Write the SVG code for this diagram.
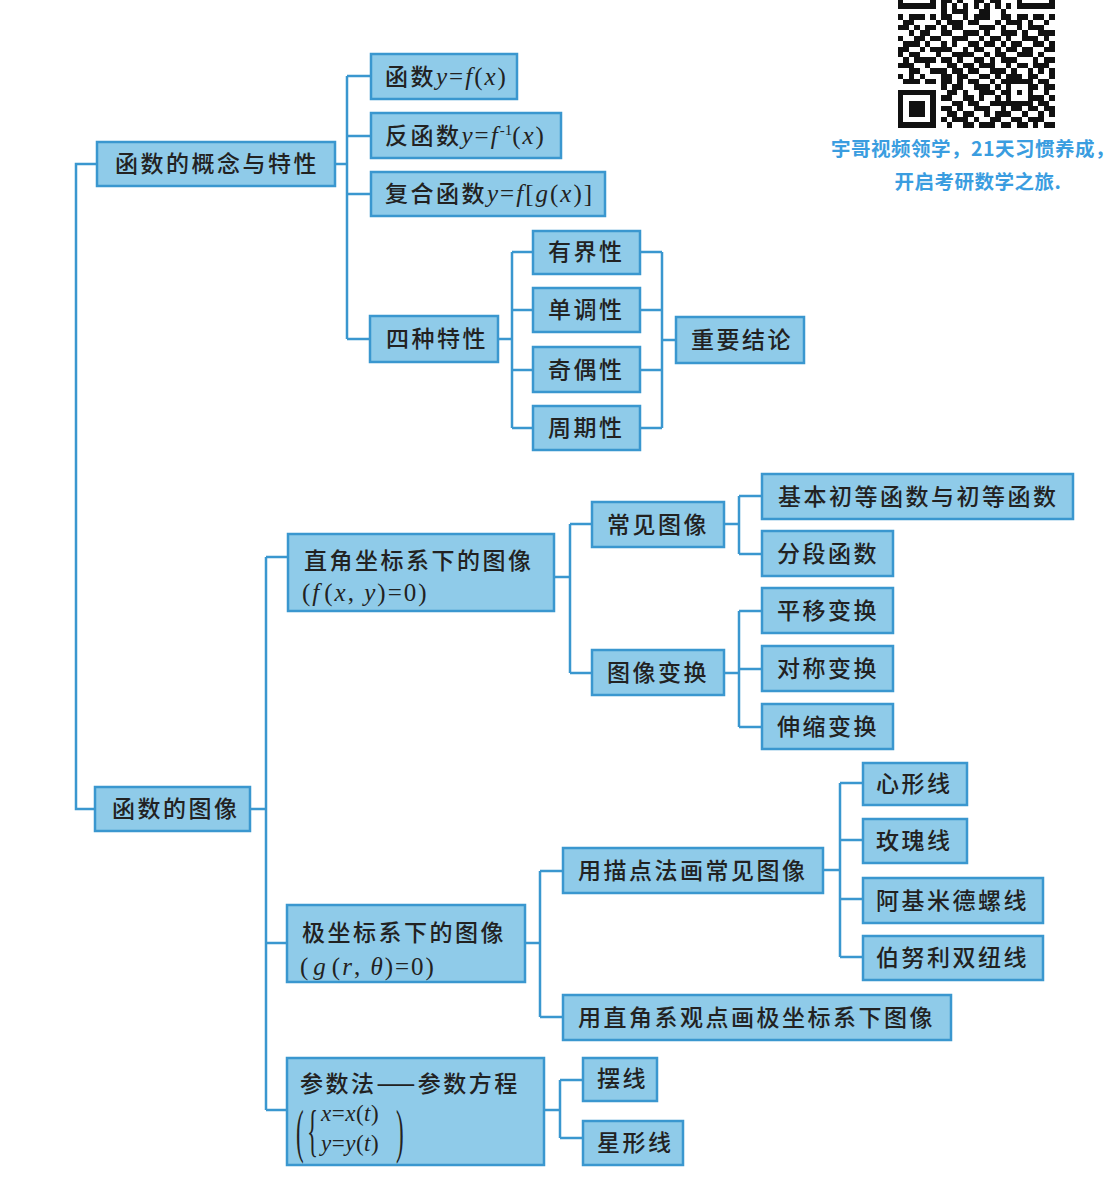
<svg xmlns="http://www.w3.org/2000/svg" width="1120" height="1180" viewBox="0 0 1120 1180">
  <style>
    .box { fill: #8fcbe9; stroke: #3a97cf; stroke-width: 2.5; }
    .link { fill: none; stroke: #3a97cf; stroke-width: 2.5; }
    .t { font-family: "Noto Sans CJK SC", "Noto Sans", sans-serif; font-size: 23px; font-weight: 500; fill: #222; letter-spacing: 2.5px; }
    .m { font-family: "Liberation Serif", "Noto Sans CJK SC", serif; font-size: 25px; font-weight: normal; letter-spacing: 2px; }
    .i { font-style: italic; }
    .f { font-family: "Liberation Serif", serif; font-size: 23px; fill: #222; letter-spacing: 0.5px; }
    .cap { font-family: "Noto Sans CJK SC", sans-serif; font-size: 19.5px; font-weight: 700; fill: #3a9de0; text-anchor: middle; letter-spacing: 0.5px; }
  </style>
  <rect width="1120" height="1180" fill="#ffffff"/>

  <!-- QR code block, top right -->
  <g id="qr" fill="#111" shape-rendering="crispEdges" transform="translate(898,-29) scale(5.4)">
    <path d="M0 5h1v1h-1zM6 5h1v1h-1zM8 5h2v1h-2zM11 5h1v1h-1zM14 5h2v1h-2zM17 5h2v1h-2zM22 5h1v1h-1zM28 5h1v1h-1z
             M0 6h7v1h-7zM8 6h1v1h-1zM10 6h1v1h-1zM12 6h1v1h-1zM14 6h1v1h-1zM16 6h1v1h-1zM18 6h1v1h-1zM20 6h1v1h-1zM22 6h7v1h-7z
             M8 7h1v1h-1zM10 7h3v1h-3zM15 7h2v1h-2zM19 7h1v1h-1z
             M0 8h1v1h-1zM2 8h3v1h-3zM6 8h1v1h-1zM8 8h2v1h-2zM12 8h1v1h-1zM14 8h3v1h-3zM19 8h2v1h-2zM22 8h2v1h-2zM25 8h2v1h-2zM28 8h1v1h-1z
             M1 9h2v1h-2zM7 9h1v1h-1zM9 9h3v1h-3zM13 9h2v1h-2zM18 9h1v1h-1zM20 9h3v1h-3zM24 9h1v1h-1zM27 9h1v1h-1z
             M0 10h2v1h-2zM3 10h1v1h-1zM5 10h2v1h-2zM8 10h1v1h-1zM10 10h2v1h-2zM15 10h3v1h-3zM19 10h1v1h-1zM22 10h1v1h-1zM24 10h3v1h-3z
             M2 11h1v1h-1zM4 11h2v1h-2zM8 11h2v1h-2zM12 11h3v1h-3zM16 11h1v1h-1zM19 11h3v1h-3zM23 11h1v1h-1zM26 11h3v1h-3z
             M0 12h1v1h-1zM3 12h2v1h-2zM6 12h2v1h-2zM10 12h3v1h-3zM15 12h1v1h-1zM17 12h2v1h-2zM20 12h1v1h-1zM23 12h3v1h-3zM27 12h1v1h-1z
             M1 13h3v1h-3zM5 13h1v1h-1zM8 13h1v1h-1zM10 13h1v1h-1zM13 13h2v1h-2zM16 13h2v1h-2zM19 13h1v1h-1zM21 13h2v1h-2zM25 13h2v1h-2zM28 13h1v1h-1z
             M0 14h2v1h-2zM4 14h1v1h-1zM6 14h4v1h-4zM12 14h1v1h-1zM14 14h2v1h-2zM18 14h1v1h-1zM20 14h2v1h-2zM23 14h2v1h-2zM27 14h2v1h-2z
             M0 15h1v1h-1zM2 15h2v1h-2zM7 15h1v1h-1zM10 15h4v1h-4zM16 15h1v1h-1zM18 15h2v1h-2zM22 15h3v1h-3zM26 15h1v1h-1z
             M1 16h1v1h-1zM3 16h4v1h-4zM8 16h2v1h-2zM11 16h1v1h-1zM14 16h2v1h-2zM17 16h1v1h-1zM19 16h3v1h-3zM25 16h1v1h-1zM27 16h2v1h-2z
             M0 17h3v1h-3zM5 17h1v1h-1zM9 17h2v1h-2zM12 17h2v1h-2zM15 17h3v1h-3zM20 17h1v1h-1zM22 17h2v1h-2zM25 17h3v1h-3z
             M2 18h2v1h-2zM6 18h3v1h-3zM10 18h2v1h-2zM13 18h2v1h-2zM17 18h3v1h-3zM21 18h1v1h-1zM24 18h1v1h-1zM26 18h1v1h-1zM28 18h1v1h-1z
             M0 19h1v1h-1zM2 19h1v1h-1zM4 19h1v1h-1zM8 19h2v1h-2zM11 19h2v1h-2zM15 19h2v1h-2zM18 19h1v1h-1zM20 19h3v1h-3zM24 19h2v1h-2zM28 19h1v1h-1z
             M1 20h3v1h-3zM5 20h2v1h-2zM8 20h2v1h-2zM11 20h1v1h-1zM13 20h2v1h-2zM17 20h1v1h-1zM19 20h6v1h-6zM26 20h2v1h-2z
             M8 21h1v1h-1zM10 21h2v1h-2zM14 21h3v1h-3zM18 21h1v1h-1zM20 21h1v1h-1zM24 21h2v1h-2zM27 21h2v1h-2z
             M0 22h7v1h-7zM9 22h2v1h-2zM12 22h1v1h-1zM15 22h3v1h-3zM19 22h2v1h-2zM22 22h1v1h-1zM24 22h1v1h-1zM27 22h1v1h-1z
             M0 23h1v1h-1zM6 23h1v1h-1zM8 23h2v1h-2zM12 23h2v1h-2zM15 23h1v1h-1zM18 23h1v1h-1zM20 23h1v1h-1zM24 23h3v1h-3zM28 23h1v1h-1z
             M0 24h1v1h-1zM2 24h3v1h-3zM6 24h1v1h-1zM10 24h2v1h-2zM13 24h2v1h-2zM17 24h8v1h-8zM26 24h2v1h-2z
             M0 25h1v1h-1zM2 25h3v1h-3zM6 25h1v1h-1zM8 25h2v1h-2zM11 25h1v1h-1zM14 25h3v1h-3zM19 25h1v1h-1zM21 25h2v1h-2zM24 25h2v1h-2zM27 25h2v1h-2z
             M0 26h1v1h-1zM2 26h3v1h-3zM6 26h1v1h-1zM9 26h2v1h-2zM12 26h2v1h-2zM16 26h1v1h-1zM18 26h3v1h-3zM23 26h1v1h-1zM26 26h1v1h-1zM28 26h1v1h-1z
             M0 27h1v1h-1zM6 27h1v1h-1zM8 27h1v1h-1zM10 27h3v1h-3zM14 27h1v1h-1zM17 27h2v1h-2zM21 27h2v1h-2zM24 27h3v1h-3z
             M0 28h7v1h-7zM9 28h1v1h-1zM12 28h2v1h-2zM15 28h3v1h-3zM19 28h2v1h-2zM22 28h2v1h-2zM25 28h1v1h-1zM27 28h2v1h-2z"/>
  </g>
  <g id="qr-caption">
    <text class="cap" x="973" y="156">宇哥视频领学，21天习惯养成，</text>
    <text class="cap" x="978" y="189">开启考研数学之旅.</text>
  </g>

  <!-- connectors -->
  <g id="connectors" class="link">
    <!-- root trunk -->
    <path class="link" d="M97 164H76V809H95"/>
    <!-- concept branch -->
    <path class="link" d="M335 164H347M347 76V339M347 76H371M347 136H371M347 194H371M347 339H370"/>
    <!-- four properties -->
    <path class="link" d="M498 339H512M512 252V428M512 252H533M512 310H533M512 370H533M512 428H533"/>
    <path class="link" d="M640 252H662M640 310H662M640 370H662M640 428H662M662 252V428M662 340H676"/>
    <!-- graph branch -->
    <path class="link" d="M250 809H266M266 557V1110M266 557H288M266 943H287M266 1110H287"/>
    <!-- cartesian -->
    <path class="link" d="M554 577H570M570 524V673M570 524H592M570 673H592"/>
    <path class="link" d="M724 524H739M739 496V554M739 496H762M739 554H762"/>
    <path class="link" d="M724 673H739M739 611V727M739 611H762M739 669H762M739 727H762"/>
    <!-- polar -->
    <path class="link" d="M525 943H540M540 871V1017M540 871H563M540 1017H563"/>
    <path class="link" d="M823 870H840M840 783V957M840 783H863M840 840H863M840 899H863M840 957H863"/>
    <!-- parametric -->
    <path class="link" d="M544 1110H560M560 1080V1138M560 1080H583M560 1138H583"/>
  </g>

  <!-- function concept and properties -->
  <g id="n-concept">
    <rect class="box" x="97" y="142" width="238" height="44"/>
    <text class="t" x="115" y="172">函数的概念与特性</text>
  </g>
  <g id="n-function">
    <rect class="box" x="371" y="54" width="146" height="45"/>
    <text class="t" x="385" y="85">函数<tspan class="m"><tspan class="i">y</tspan>=<tspan class="i">f</tspan>(<tspan class="i">x</tspan>)</tspan></text>
  </g>
  <g id="n-inverse">
    <rect class="box" x="371" y="113" width="190" height="45"/>
    <text class="t" x="385" y="144">反函数<tspan class="m"><tspan class="i">y</tspan>=<tspan class="i">f</tspan><tspan font-size="15" dy="-9" letter-spacing="0">-1</tspan><tspan dy="9">(</tspan><tspan class="i">x</tspan>)</tspan></text>
  </g>
  <g id="n-composite">
    <rect class="box" x="371" y="172" width="234" height="44"/>
    <text class="t" x="385" y="202">复合函数<tspan class="m"><tspan class="i">y</tspan>=<tspan class="i">f</tspan>[<tspan class="i">g</tspan>(<tspan class="i">x</tspan>)]</tspan></text>
  </g>
  <g id="n-four">
    <rect class="box" x="370" y="316" width="128" height="46"/>
    <text class="t" x="386" y="347">四种特性</text>
  </g>
  <g id="n-bounded">
    <rect class="box" x="533" y="231" width="107" height="43"/>
    <text class="t" x="548" y="260">有界性</text>
  </g>
  <g id="n-monotone">
    <rect class="box" x="533" y="288" width="107" height="44"/>
    <text class="t" x="548" y="318">单调性</text>
  </g>
  <g id="n-parity">
    <rect class="box" x="533" y="347" width="107" height="45"/>
    <text class="t" x="548" y="378">奇偶性</text>
  </g>
  <g id="n-period">
    <rect class="box" x="533" y="406" width="107" height="44"/>
    <text class="t" x="548" y="436">周期性</text>
  </g>
  <g id="n-conclusion">
    <rect class="box" x="676" y="317" width="128" height="46"/>
    <text class="t" x="691" y="348">重要结论</text>
  </g>

  <!-- function graphs -->
  <g id="n-graph">
    <rect class="box" x="95" y="787" width="155" height="44"/>
    <text class="t" x="112" y="817">函数的图像</text>
  </g>
  <g id="n-cartesian">
    <rect class="box" x="288" y="534" width="266" height="77"/>
    <text class="t" x="304" y="569">直角坐标系下的图像</text>
    <text class="t" x="302" y="601"><tspan class="m">(<tspan class="i">f</tspan><tspan dx="3">(</tspan><tspan class="i">x</tspan>, <tspan class="i">y</tspan>)=0)</tspan></text>
  </g>
  <g id="n-common">
    <rect class="box" x="592" y="502" width="132" height="45"/>
    <text class="t" x="607" y="533">常见图像</text>
  </g>
  <g id="n-transform">
    <rect class="box" x="592" y="650" width="132" height="45"/>
    <text class="t" x="607" y="681">图像变换</text>
  </g>
  <g id="n-elementary">
    <rect class="box" x="762" y="474" width="311" height="45"/>
    <text class="t" x="778" y="505" letter-spacing="5.4">基本初等函数与初等函数</text>
  </g>
  <g id="n-piecewise">
    <rect class="box" x="762" y="531" width="131" height="45"/>
    <text class="t" x="777" y="562">分段函数</text>
  </g>
  <g id="n-shift">
    <rect class="box" x="762" y="588" width="131" height="45"/>
    <text class="t" x="777" y="619">平移变换</text>
  </g>
  <g id="n-symmetry">
    <rect class="box" x="762" y="646" width="131" height="45"/>
    <text class="t" x="777" y="677">对称变换</text>
  </g>
  <g id="n-stretch">
    <rect class="box" x="762" y="704" width="131" height="45"/>
    <text class="t" x="777" y="735">伸缩变换</text>
  </g>

  <g id="n-polar">
    <rect class="box" x="287" y="905" width="238" height="77"/>
    <text class="t" x="302" y="941">极坐标系下的图像</text>
    <text class="t" x="300" y="975"><tspan class="m">(<tspan dx="3" class="i">g</tspan><tspan dx="4">(</tspan><tspan class="i">r</tspan>, <tspan class="i">θ</tspan>)=0)</tspan></text>
  </g>
  <g id="n-plot">
    <rect class="box" x="563" y="848" width="260" height="45"/>
    <text class="t" x="578" y="879">用描点法画常见图像</text>
  </g>
  <g id="n-rectview">
    <rect class="box" x="563" y="995" width="388" height="45"/>
    <text class="t" x="578" y="1026">用直角系观点画极坐标系下图像</text>
  </g>
  <g id="n-cardioid">
    <rect class="box" x="863" y="763" width="104" height="42"/>
    <text class="t" x="876" y="792">心形线</text>
  </g>
  <g id="n-rose">
    <rect class="box" x="863" y="819" width="104" height="44"/>
    <text class="t" x="876" y="849">玫瑰线</text>
  </g>
  <g id="n-spiral">
    <rect class="box" x="863" y="878" width="180" height="45"/>
    <text class="t" x="876" y="909">阿基米德螺线</text>
  </g>
  <g id="n-lemniscate">
    <rect class="box" x="863" y="936" width="180" height="44"/>
    <text class="t" x="876" y="966">伯努利双纽线</text>
  </g>

  <g id="n-param">
    <rect class="box" x="287" y="1058" width="257" height="107"/>
    <text class="t" x="300" y="1092">参数法——参数方程</text>
    <!-- tall grouping brackets around the equation pair -->
    <text class="f" transform="translate(296,1151) scale(1,2.6)" font-size="24">(</text>
    <text class="f" transform="translate(307,1150) scale(1,2.5)" font-size="24">{</text>
    <text class="f" x="321" y="1121"><tspan class="i">x</tspan>=<tspan class="i">x</tspan>(<tspan class="i">t</tspan>)</text>
    <text class="f" x="321" y="1151"><tspan class="i">y</tspan>=<tspan class="i">y</tspan>(<tspan class="i">t</tspan>)</text>
    <text class="f" transform="translate(396,1151) scale(1,2.6)" font-size="24">)</text>
  </g>
  <g id="n-cycloid">
    <rect class="box" x="583" y="1058" width="74" height="43"/>
    <text class="t" x="597" y="1087">摆线</text>
  </g>
  <g id="n-astroid">
    <rect class="box" x="583" y="1121" width="100" height="44"/>
    <text class="t" x="597" y="1151">星形线</text>
  </g>
</svg>
